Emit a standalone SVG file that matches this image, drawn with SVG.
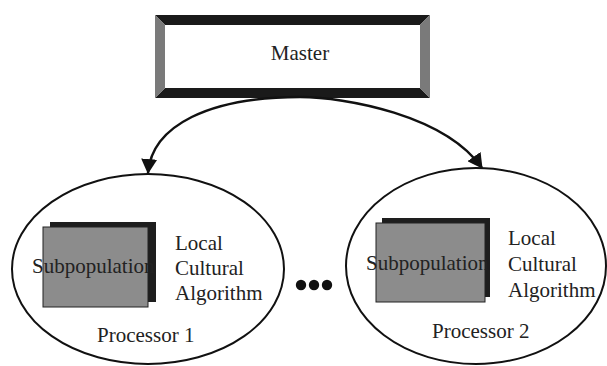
<svg xmlns="http://www.w3.org/2000/svg" width="607" height="366" viewBox="0 0 607 366">
<style>
text{font-family:"Liberation Serif","Times New Roman",serif;font-size:21px;fill:#222}
.ell{fill:none;stroke:#111;stroke-width:2}
.front{fill:#8c8c8c;stroke:#222;stroke-width:1}
.back{fill:#1e1e1e}
.conn{fill:none;stroke:#111;stroke-width:2.5}
</style>
<defs>
<marker id="ah" markerUnits="userSpaceOnUse" markerWidth="16" markerHeight="16" viewBox="0 0 16 16" refX="14" refY="8" orient="auto">
<path d="M0,0 L15,8 L0,16 Z" fill="#111"/>
</marker>
</defs>
<rect width="607" height="366" fill="#fff"/>
<g id="master">
<rect x="160" y="20" width="265" height="73" fill="#fff"/>
<polygon points="155,15 430,15 420,25 165,25" fill="#1a1a1a"/>
<polygon points="155,98 165,88 420,88 430,98" fill="#1a1a1a"/>
<polygon points="155,15 165,25 165,88 155,98" fill="#7a7a7a"/>
<polygon points="430,15 430,98 420,88 420,25" fill="#7a7a7a"/>
<text x="300" y="60" text-anchor="middle">Master</text>
</g>
<g id="connectors">
<path class="conn" d="M300,97 C210,97 152,125 148,173" marker-end="url(#ah)"/>
<path class="conn" d="M300,97 C345,97 445,115 482,168" marker-end="url(#ah)"/>
</g>
<g id="processor1">
<ellipse class="ell" cx="148" cy="269" rx="136" ry="95"/>
<rect class="back" x="50" y="222" width="106" height="80"/>
<rect class="front" x="43" y="227" width="105" height="80"/>
<text x="32" y="273">Subpopulation</text>
<text x="175" y="250">Local</text>
<text x="175" y="275">Cultural</text>
<text x="175" y="300">Algorithm</text>
<text x="97" y="342">Processor 1</text>
</g>
<g id="dots" fill="#111">
<circle cx="301" cy="285" r="5.2"/>
<circle cx="314" cy="285" r="5.2"/>
<circle cx="327" cy="285" r="5.2"/>
</g>
<g id="processor2">
<ellipse class="ell" cx="476" cy="266" rx="130" ry="98"/>
<rect class="back" x="382" y="218" width="108" height="79"/>
<rect class="front" x="376" y="223" width="109" height="79"/>
<text x="366" y="270">Subpopulation</text>
<text x="508" y="245">Local</text>
<text x="508" y="271">Cultural</text>
<text x="508" y="297">Algorithm</text>
<text x="432" y="338">Processor 2</text>
</g>
</svg>
